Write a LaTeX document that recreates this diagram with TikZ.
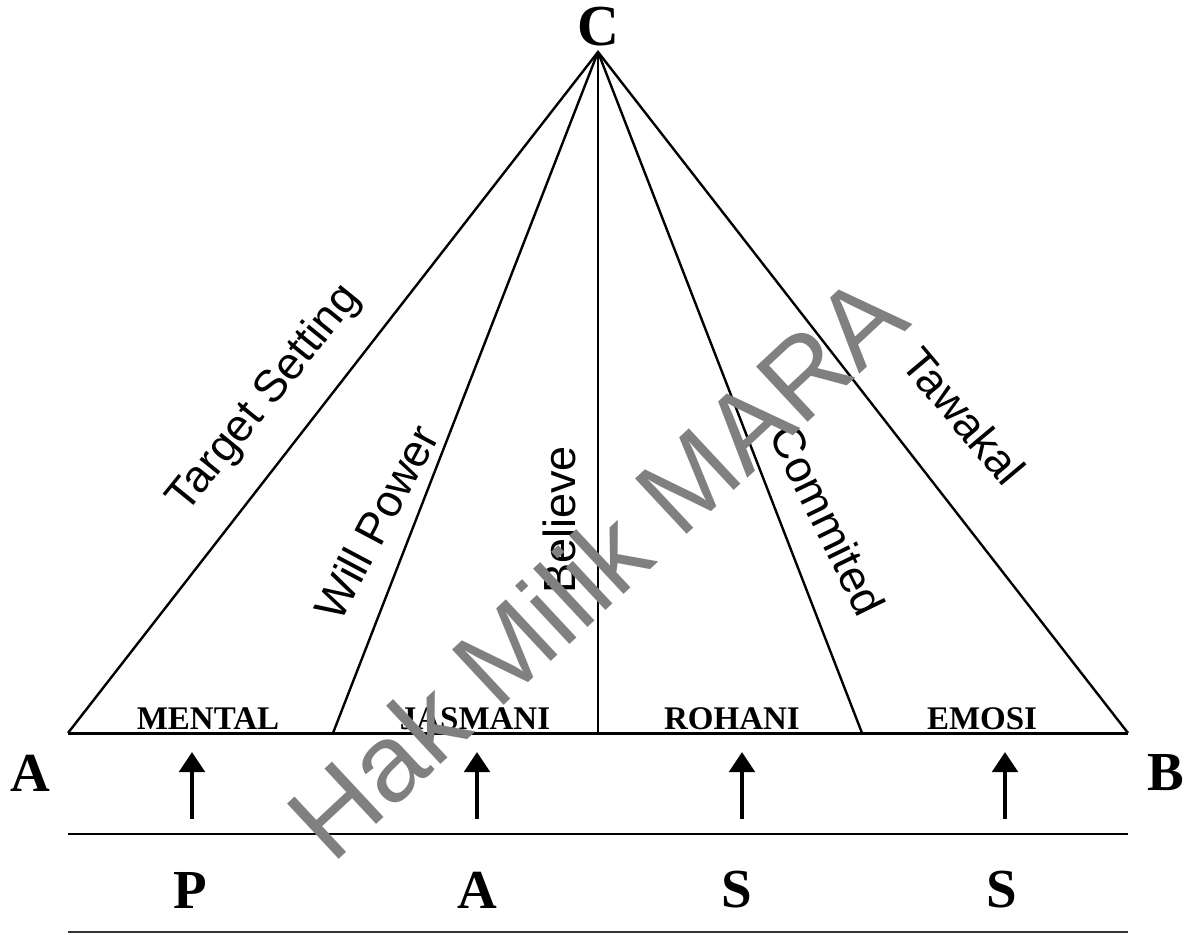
\documentclass[tikz,border=0pt]{standalone}
\usepackage{fontspec}
\setmainfont{Liberation Serif}
\setsansfont{Liberation Sans}
\usetikzlibrary{arrows.meta}

\begin{document}
\begin{tikzpicture}[x=0.5pt, y=-0.5pt, >={Triangle[width=12.5pt,length=10pt]},
    side/.style={line width=1.2pt},
    ground/.style={line width=1.5pt},
    arealabel/.style={anchor=base, font=\fontsize{16.5}{18}\selectfont\bfseries},
    corner/.style={font=\fontsize{27.5}{30}\selectfont\bfseries},
    factor/.style={font=\fontsize{22.5}{24}\selectfont\sffamily},
    push/.style={->, line width=2.4pt},
    stamp/.style={text=black!50, font=\fontsize{55}{58}\selectfont\sffamily}]
    \useasboundingbox (0,0) rectangle (1199,935);

    % apex and base points of the fan
    \coordinate (C) at (598,52);
    \coordinate (A0) at (68,733);
    \coordinate (A1) at (333,733);
    \coordinate (A2) at (598,733);
    \coordinate (A3) at (862,733);
    \coordinate (A4) at (1128,733);

    \draw[ground] (A0) -- (A4);
    \draw[side] (A0) -- (C) -- (A4);
    \foreach \p in {A1,A2,A3}
        \draw[side] (C) -- (\p);

    \node[corner, font=\fontsize{29}{31}\selectfont\bfseries] (top) at (598,27) {C};
    \node[corner] (left) at (30,773) {A};
    \node[corner] (right) at (1166,773) {B};

    % factors along the sides
    \node[factor, rotate=51] (target) at (265,399) {Target Setting};
    \node[factor, rotate=62] (will) at (376,522) {Will Power};
    \node[factor, rotate=90] (believe) at (559,520) {Believe};
    \node[factor, rotate=-64] (commit) at (828,520) {Commited};
    \node[factor, rotate=-50] (tawakal) at (964,416) {Tawakal};

    \node[arealabel] (mental) at (208,729) {MENTAL};
    \node[arealabel] (jasmani) at (475,729) {JASMANI};
    \node[arealabel] (rohani) at (732,729) {ROHANI};
    \node[arealabel] (emosi) at (982,729) {EMOSI};

    % arrows up from the letters
    \foreach \x/\n in {192/1, 477/2, 742/3, 1005/4} {
        \coordinate (foot\n) at (\x,819);
        \coordinate (tip\n) at (\x,752);
        \draw[push] (foot\n) -- (tip\n);
    }

    \coordinate (L0) at (68,834);
    \coordinate (L1) at (1128,834);
    \coordinate (M0) at (68,932);
    \coordinate (M1) at (1128,932);
    \draw[side] (L0) -- (L1);
    \draw[side, black!80] (M0) -- (M1);

    \node[corner] (p) at (190,890) {P};
    \node[corner] (a) at (477,890) {A};
    \node[corner] (s1) at (737,890) {S};
    \node[corner] (s2) at (1002,890) {S};

    \node[stamp, rotate=43] (mark) at (596,566) {Hak Milik MARA};
\end{tikzpicture}
\end{document}
